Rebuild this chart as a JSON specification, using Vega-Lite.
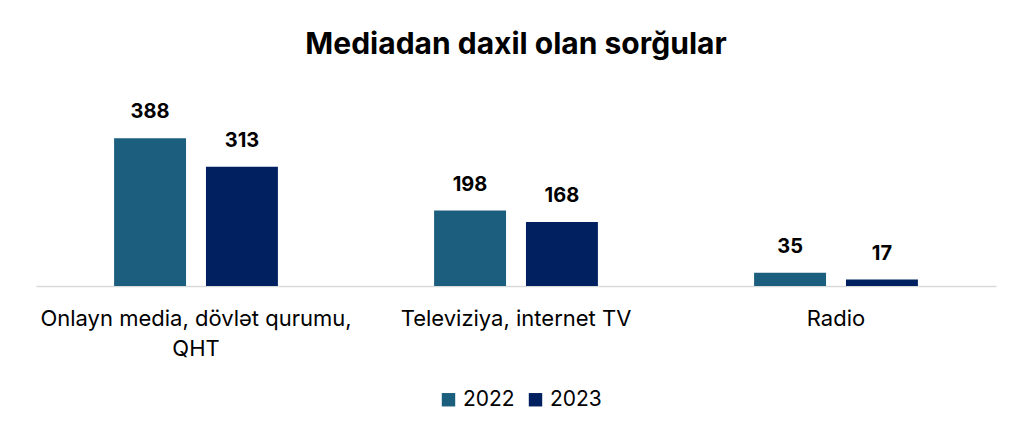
{
  "$schema": "https://vega.github.io/schema/vega-lite/v6.json",
  "autosize": {"type": "none"},
  "width": 960,
  "height": 200,
  "padding": {"left": 36, "top": 86, "right": 20, "bottom": 155},
  "background": "white",
  "config": {"font": "Inter", "view": {"stroke": null}},
  "title": {"text": "Mediadan daxil olan sorğular", "font": "Inter", "fontSize": 30, "fontWeight": "bold", "color": "#000000", "anchor": "middle", "offset": 26},
  "data": {"values": [
    {"cat": "Onlayn media, dövlət qurumu, QHT", "year": "2022", "value": 388},
    {"cat": "Onlayn media, dövlət qurumu, QHT", "year": "2023", "value": 313},
    {"cat": "Televiziya, internet TV", "year": "2022", "value": 198},
    {"cat": "Televiziya, internet TV", "year": "2023", "value": 168},
    {"cat": "Radio", "year": "2022", "value": 35},
    {"cat": "Radio", "year": "2023", "value": 17}
  ]},
  "encoding": {
    "x": {"field": "cat", "type": "nominal", "sort": null, "title": null,
      "scale": {"paddingInner": 0, "paddingOuter": 0},
      "axis": {"labelAngle": 0, "labelFont": "Inter", "labelFontSize": 22, "labelColor": "#000000", "ticks": false, "domainColor": "#d9d9d9", "domainWidth": 1.5, "labelPadding": 22, "labelLineHeight": 30, "labelLimit": 400,
        "labelExpr": "datum.label == 'Onlayn media, dövlət qurumu, QHT' ? ['Onlayn media, dövlət qurumu,', 'QHT'] : datum.label"}},
    "xOffset": {"field": "year", "type": "nominal", "scale": {"paddingInner": 0.217, "paddingOuter": 0.85}},
    "y": {"field": "value", "type": "quantitative", "scale": {"domain": [0, 525]}, "axis": null}
  },
  "layer": [
    {"mark": {"type": "bar"},
     "encoding": {"color": {"field": "year", "type": "nominal", "scale": {"domain": ["2022", "2023"], "range": ["#1B5E7E", "#002060"]},
       "legend": {"title": null, "orient": "none", "legendX": 402, "legendY": 303, "direction": "horizontal", "symbolType": "square", "symbolSize": 180, "labelFont": "Inter", "labelFontSize": 21, "labelColor": "#000000", "labelOffset": 4, "columnPadding": 10, "symbolStrokeWidth": 0}}}},
    {"mark": {"type": "text", "font": "Inter", "fontSize": 20, "fontWeight": "bold", "baseline": "bottom", "dy": -16, "color": "#000000"},
     "encoding": {"text": {"field": "value", "type": "quantitative"}}}
  ]
}
